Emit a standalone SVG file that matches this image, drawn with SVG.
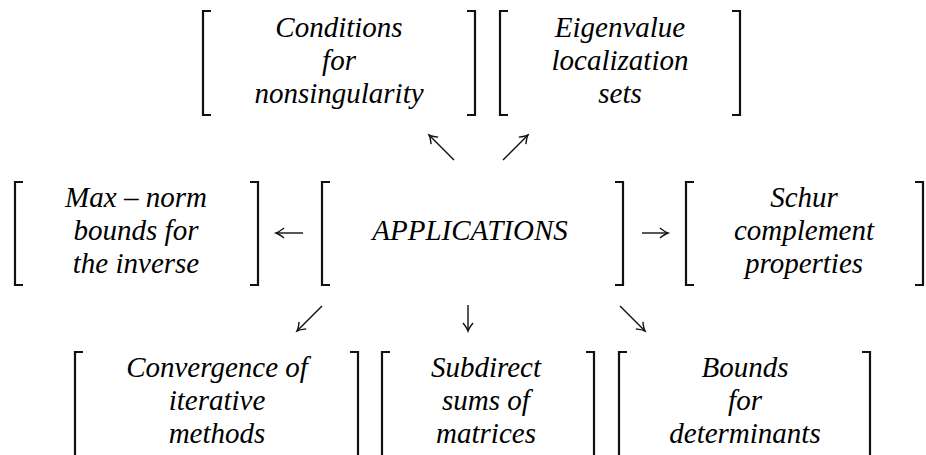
<svg xmlns="http://www.w3.org/2000/svg" width="926" height="455" viewBox="0 0 926 455">
<rect width="926" height="455" fill="#fff"/>
<g id="conditions">
  <path fill="none" stroke="#111" stroke-width="2.2" d="M211,11 H203 V115 H211 M467,11 H475 V115 H467"/>
  <text x="339" y="37" text-anchor="middle" font-family="Liberation Serif" font-style="italic" font-size="29">Conditions</text>
  <text x="339" y="70" text-anchor="middle" font-family="Liberation Serif" font-style="italic" font-size="29">for</text>
  <text x="339" y="103" text-anchor="middle" font-family="Liberation Serif" font-style="italic" font-size="29">nonsingularity</text>
</g>
<g id="eigenvalue">
  <path fill="none" stroke="#111" stroke-width="2.2" d="M508,11 H500 V115 H508 M732,11 H740 V115 H732"/>
  <text x="620" y="37" text-anchor="middle" font-family="Liberation Serif" font-style="italic" font-size="29">Eigenvalue</text>
  <text x="620" y="70" text-anchor="middle" font-family="Liberation Serif" font-style="italic" font-size="29">localization</text>
  <text x="620" y="103" text-anchor="middle" font-family="Liberation Serif" font-style="italic" font-size="29">sets</text>
</g>
<g id="maxnorm">
  <path fill="none" stroke="#111" stroke-width="2.2" d="M23,182 H15 V285 H23 M250,182 H258 V285 H250"/>
  <text x="136" y="207" text-anchor="middle" font-family="Liberation Serif" font-style="italic" font-size="29">Max – norm</text>
  <text x="136" y="240" text-anchor="middle" font-family="Liberation Serif" font-style="italic" font-size="29">bounds for</text>
  <text x="136" y="273" text-anchor="middle" font-family="Liberation Serif" font-style="italic" font-size="29">the inverse</text>
</g>
<g id="applications">
  <path fill="none" stroke="#111" stroke-width="2.2" d="M330,182 H322 V285 H330 M615,182 H623 V285 H615"/>
  <text x="470" y="240" text-anchor="middle" font-family="Liberation Serif" font-style="italic" font-size="29">APPLICATIONS</text>
</g>
<g id="schur">
  <path fill="none" stroke="#111" stroke-width="2.2" d="M694,182 H686 V285 H694 M915,182 H923 V285 H915"/>
  <text x="804" y="207" text-anchor="middle" font-family="Liberation Serif" font-style="italic" font-size="29">Schur</text>
  <text x="804" y="240" text-anchor="middle" font-family="Liberation Serif" font-style="italic" font-size="29">complement</text>
  <text x="804" y="273" text-anchor="middle" font-family="Liberation Serif" font-style="italic" font-size="29">properties</text>
</g>
<g id="convergence">
  <path fill="none" stroke="#111" stroke-width="2.2" d="M83,352 H75 V456 H83 M350,352 H358 V456 H350"/>
  <text x="217" y="377" text-anchor="middle" font-family="Liberation Serif" font-style="italic" font-size="29">Convergence of</text>
  <text x="217" y="410" text-anchor="middle" font-family="Liberation Serif" font-style="italic" font-size="29">iterative</text>
  <text x="217" y="443" text-anchor="middle" font-family="Liberation Serif" font-style="italic" font-size="29">methods</text>
</g>
<g id="subdirect">
  <path fill="none" stroke="#111" stroke-width="2.2" d="M390,352 H382 V456 H390 M586,352 H594 V456 H586"/>
  <text x="486" y="377" text-anchor="middle" font-family="Liberation Serif" font-style="italic" font-size="29">Subdirect</text>
  <text x="486" y="410" text-anchor="middle" font-family="Liberation Serif" font-style="italic" font-size="29">sums of</text>
  <text x="486" y="443" text-anchor="middle" font-family="Liberation Serif" font-style="italic" font-size="29">matrices</text>
</g>
<g id="bounds">
  <path fill="none" stroke="#111" stroke-width="2.2" d="M627,352 H619 V456 H627 M862,352 H870 V456 H862"/>
  <text x="745" y="377" text-anchor="middle" font-family="Liberation Serif" font-style="italic" font-size="29">Bounds</text>
  <text x="745" y="410" text-anchor="middle" font-family="Liberation Serif" font-style="italic" font-size="29">for</text>
  <text x="745" y="443" text-anchor="middle" font-family="Liberation Serif" font-style="italic" font-size="29">determinants</text>
</g>
<g id="connectors" fill="none" stroke="#111" stroke-width="1.4">
  <path d="M454,160 L429,135"/>
  <path d="M438.2,137.1 Q431.8,136.4 429,135 Q430.4,137.8 431.1,144.2"/>
  <path d="M503,160 L528,135"/>
  <path d="M525.9,144.2 Q526.6,137.8 528,135 Q525.2,136.4 518.8,137.1"/>
  <path d="M303,233 L276,233"/>
  <path d="M284,238 Q279,234 276,233 Q279,232 284,228"/>
  <path d="M642,233 L668,233"/>
  <path d="M660,228 Q665,232 668,233 Q665,234 660,238"/>
  <path d="M322,306 L297,331"/>
  <path d="M306.2,328.9 Q299.8,329.6 297,331 Q298.4,328.2 299.1,321.8"/>
  <path d="M468,305 L468,331"/>
  <path d="M463,323 Q467,328 468,331 Q469,328 473,323"/>
  <path d="M620,306 L645,331"/>
  <path d="M635.8,328.9 Q642.2,329.6 645,331 Q643.6,328.2 642.9,321.8"/>
</g>
</svg>
